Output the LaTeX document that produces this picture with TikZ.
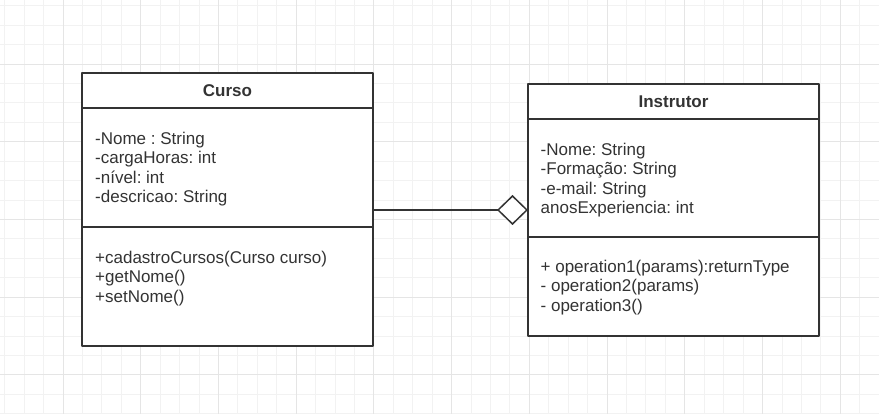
\documentclass[tikz,border=0pt]{standalone}
\usepackage{fontspec}
\setmainfont{Liberation Sans}
\usetikzlibrary{positioning,arrows.meta}
\frenchspacing
\tikzset{
  box/.style={draw=black!80, line width=1.5pt, fill=white, minimum width=291pt, inner sep=0pt, outer sep=0pt},
  head/.style={box, minimum height=35pt, font=\fontsize{17}{19.5}\selectfont\bfseries},
  txt/.style={align=left, inner sep=0pt},
  agg/.style={draw=black!80, line width=1.5pt, -{Diamond[open,fill=white,length=31pt,width=30pt]}}
}
\begin{document}
\begin{tikzpicture}[x=1pt, y=-1pt, font=\fontsize{17}{19.5}\selectfont, text=black!80, line join=round]
\def\W{879} \def\H{414}
\fill[white] (0,0) rectangle (\W,\H);
\useasboundingbox (0,0) rectangle (\W,\H);
% grid
\foreach \i [evaluate=\i as \gx using 4.7+19.43*\i] in {0,...,45} \draw[gray!10, line width=0.8pt] (\gx,0)--(\gx,\H);
\foreach \j [evaluate=\j as \gy using 5.7+19.43*\j] in {0,...,21} \draw[gray!10, line width=0.8pt] (0,\gy)--(\W,\gy);
\foreach \i [evaluate=\i as \gx using 4.7+19.43*\i] in {3,7,...,43} \draw[gray!20, line width=0.8pt] (\gx,0)--(\gx,\H);
\foreach \j [evaluate=\j as \gy using 5.7+19.43*\j] in {3,7,...,19} \draw[gray!20, line width=0.8pt] (0,\gy)--(\W,\gy);
% Curso
\node[head, anchor=north west] (cursoT) at (82,73) {Curso};
\node[box, minimum height=119pt, below=0pt of cursoT] (cursoA) {};
\node[box, minimum height=119pt, below=0pt of cursoA] (cursoM) {};
\node[txt, below right=23.5pt and 13pt of cursoA.north west] (cursoAt) {-Nome : String\\-cargaHoras: int\\-nível: int\\-descricao: String};
\node[txt, below right=23.5pt and 13pt of cursoM.north west] (cursoMt) {+cadastroCursos(Curso curso)\\+getNome()\\+setNome()};
% Instrutor
\node[head, anchor=north west] (instrT) at (528,84) {Instrutor};
\node[box, minimum height=118pt, below=0pt of instrT] (instrA) {};
\node[box, minimum height=99pt, below=0pt of instrA] (instrM) {};
\node[txt, below right=23.5pt and 12.5pt of instrA.north west] (instrAt) {-Nome: String\\-Formação: String\\-e-mail: String\\anosExperiencia: int};
\node[txt, below right=22.5pt and 12.5pt of instrM.north west] (instrMt) {+ operation1(params):returnType\\- operation2(params)\\- operation3()};
% agregacao
\coordinate (lnk) at (0,210);
\draw[agg] (cursoA.east |- lnk) -- (instrA.west |- lnk);
\end{tikzpicture}
\end{document}
